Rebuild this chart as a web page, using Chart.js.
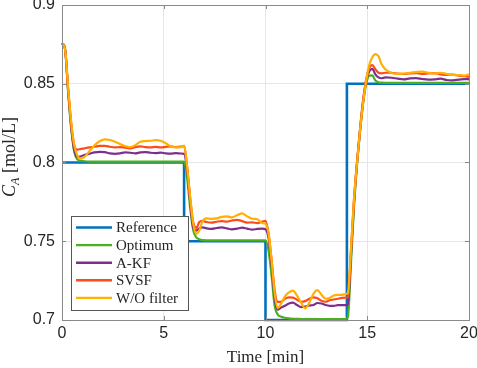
<!DOCTYPE html>
<html>
<head>
<meta charset="utf-8">
<script src="https://cdn.jsdelivr.net/npm/chart.js@4.4.0/dist/chart.umd.min.js"></script>
<style>
  html, body { margin: 0; padding: 0; background: #fff; }
  #wrap { width: 477px; height: 368px; }
</style>
</head>
<body>
<div id="wrap"><canvas id="ca" width="477" height="368"></canvas></div>
<script>
// dati
const labels = ["Reference", "Optimum", "A-KF", "SVSF", "W/O filter"];
const colors = ["#0072BD", "#4DAF1E", "#7E2F8E", "#FF4B1A", "#FFB000"];

const refTime = [0, 6, 6, 10, 10, 14, 14, 20];
const refValues = [0.8, 0.8, 0.75, 0.75, 0.7, 0.7, 0.85, 0.85];

const timeMin = [
  0, 0.15, 0.3, 0.45, 0.6, 0.75, 0.9, 1.1, 1.35, 1.6, 1.85, 2.1, 2.35, 2.6, 2.85, 3.1, 3.35, 3.6, 3.85, 4.1, 4.35, 4.6, 4.85, 5.1, 5.35, 5.6, 5.85, 6.0,
  6.15, 6.3, 6.45, 6.6, 6.75, 6.9, 7.1, 7.35, 7.6, 7.85, 8.1, 8.35, 8.6, 8.85, 9.1, 9.35, 9.6, 9.85, 10.0,
  10.15, 10.3, 10.45, 10.6, 10.75, 10.95, 11.15, 11.35, 11.55, 11.75, 11.95, 12.15, 12.35, 12.55, 12.75, 12.95, 13.15, 13.35, 13.55, 13.75, 13.95, 14.05,
  14.2, 14.35, 14.5, 14.65, 14.8, 14.95, 15.1, 15.25, 15.4, 15.55, 15.7, 15.9, 16.2, 16.5, 16.8, 17.1, 17.4, 17.7, 18.0, 18.3, 18.6, 18.9, 19.2, 19.5, 19.8, 20.0
];

const optimum = [
  0.8757, 0.872, 0.845, 0.822, 0.807, 0.802, 0.8012, 0.8008, 0.8006, 0.8006, 0.8006, 0.8006, 0.8006, 0.8006, 0.8006, 0.8006, 0.8006, 0.8006, 0.8006, 0.8006, 0.8006, 0.8006, 0.8006, 0.8006, 0.8006, 0.8006, 0.8006, 0.8006,
  0.790, 0.771, 0.757, 0.7525, 0.7512, 0.7507, 0.7506, 0.7506, 0.7506, 0.7506, 0.7506, 0.7506, 0.7506, 0.7506, 0.7506, 0.7506, 0.7506, 0.7506, 0.7506,
  0.744, 0.728, 0.709, 0.7035, 0.7022, 0.7014, 0.701, 0.7008, 0.7007, 0.7006, 0.7006, 0.7006, 0.7006, 0.7006, 0.7006, 0.7006, 0.7006, 0.7006, 0.7006, 0.7006, 0.7006, 0.702,
  0.736, 0.772, 0.799, 0.820, 0.838, 0.850, 0.8552, 0.8553, 0.852, 0.8509, 0.8507, 0.8506, 0.8506, 0.8506, 0.8506, 0.8506, 0.8506, 0.8506, 0.8506, 0.8506, 0.8506, 0.8506, 0.8506, 0.8506, 0.8506, 0.8506
];

const akf = [
  0.8757, 0.872, 0.846, 0.823, 0.808, 0.8035, 0.8038, 0.8048, 0.8056, 0.8064, 0.8068, 0.8066, 0.8058, 0.8055, 0.8058, 0.8064, 0.8062, 0.8058, 0.8064, 0.8066, 0.8062, 0.806, 0.8063, 0.8058, 0.8056, 0.806, 0.8057, 0.8055,
  0.795, 0.775, 0.7585, 0.7568, 0.7582, 0.7588, 0.7582, 0.7578, 0.7584, 0.7588, 0.7582, 0.7576, 0.758, 0.7586, 0.758, 0.7574, 0.7578, 0.758, 0.7576,
  0.752, 0.735, 0.714, 0.7065, 0.7078, 0.709, 0.7105, 0.711, 0.7095, 0.7082, 0.7086, 0.7092, 0.7095, 0.7108, 0.7105, 0.7095, 0.709, 0.709, 0.7094, 0.7095, 0.7094, 0.7095,
  0.741, 0.775, 0.800, 0.821, 0.839, 0.852, 0.858, 0.8595, 0.856, 0.854, 0.8535, 0.854, 0.8538, 0.8532, 0.8528, 0.8534, 0.8536, 0.853, 0.8526, 0.8528, 0.8532, 0.8524, 0.8522, 0.8526, 0.853, 0.8528
];

const svsf = [
  0.8757, 0.872, 0.847, 0.825, 0.811, 0.8082, 0.8085, 0.809, 0.8096, 0.810, 0.8105, 0.8105, 0.810, 0.8096, 0.8098, 0.8094, 0.809, 0.8098, 0.8102, 0.8098, 0.8096, 0.8099, 0.8096, 0.8099, 0.8102, 0.8098, 0.8101, 0.8105,
  0.797, 0.777, 0.762, 0.7585, 0.7622, 0.763, 0.7622, 0.7618, 0.7624, 0.7628, 0.7625, 0.7632, 0.7636, 0.7628, 0.7618, 0.762, 0.7615, 0.7625, 0.763,
  0.755, 0.738, 0.719, 0.7115, 0.7115, 0.7135, 0.7144, 0.7142, 0.7128, 0.7116, 0.712, 0.7135, 0.7144, 0.7138, 0.7122, 0.7116, 0.7125, 0.713, 0.7135, 0.714, 0.7142, 0.7145,
  0.744, 0.777, 0.801, 0.822, 0.840, 0.853, 0.860, 0.8618, 0.8592, 0.857, 0.8566, 0.857, 0.857, 0.8564, 0.8562, 0.8566, 0.8568, 0.8562, 0.8565, 0.8568, 0.856, 0.8556, 0.8558, 0.8552, 0.8548, 0.8543
];

const woFilter = [
  0.8757, 0.872, 0.848, 0.826, 0.811, 0.8045, 0.8027, 0.8035, 0.8072, 0.811, 0.8135, 0.8147, 0.8143, 0.8132, 0.8118, 0.8105, 0.8097, 0.811, 0.8132, 0.8136, 0.8138, 0.8142, 0.8138, 0.8122, 0.8102, 0.8096, 0.8098, 0.8105,
  0.797, 0.778, 0.761, 0.7548, 0.757, 0.7625, 0.7645, 0.7642, 0.7645, 0.7655, 0.7658, 0.7652, 0.7665, 0.7677, 0.7658, 0.7643, 0.764, 0.7615, 0.761,
  0.755, 0.738, 0.717, 0.7076, 0.710, 0.7148, 0.7175, 0.7186, 0.7155, 0.711, 0.7074, 0.711, 0.7165, 0.719, 0.716, 0.7135, 0.714, 0.7155, 0.716, 0.716, 0.7165, 0.7172,
  0.745, 0.777, 0.800, 0.821, 0.838, 0.852, 0.862, 0.8668, 0.8688, 0.8675, 0.8625, 0.859, 0.8568, 0.8562, 0.8565, 0.857, 0.8574, 0.8577, 0.857, 0.8566, 0.857, 0.8562, 0.8556, 0.8555, 0.8552, 0.856
];

const xTicks = [0, 5, 10, 15, 20];
const yTicks = [0.7, 0.75, 0.8, 0.85, 0.9];

const AXIS_COL = "#262626";
const FRAME_COL = "#8a8a8a";

function toPoints(xs, ys) {
  return xs.map((x, i) => ({ x: x, y: ys[i] }));
}

const seriesValues = [null, optimum, akf, svsf, woFilter];
const datasets = labels.map((lab, i) => ({
  label: lab,
  data: i === 0 ? toPoints(refTime, refValues) : toPoints(timeMin, seriesValues[i]),
  borderColor: colors[i],
  borderWidth: i === 0 ? 2.6 : 2.2,
  pointRadius: 0,
  fill: false,
  tension: i === 0 ? 0 : 0.4,
  cubicInterpolationMode: i === 0 ? "default" : "monotone",
  clip: 4,
  order: labels.length - i,
}));

// cornice con tacche interne, titolo asse y e legenda dentro il grafico
const framePlugin = {
  id: "frame",
  afterDraw(chart) {
    const c = chart.ctx;
    const a = chart.chartArea;
    const xs = chart.scales.x, ys = chart.scales.y;
    c.save();
    c.strokeStyle = FRAME_COL;
    c.lineWidth = 1;
    c.strokeRect(Math.round(a.left) + 0.5, Math.round(a.top) + 0.5, Math.round(a.right - a.left), Math.round(a.bottom - a.top));
    c.beginPath();
    xTicks.forEach(t => {
      const px = Math.round(xs.getPixelForValue(t)) + 0.5;
      c.moveTo(px, a.bottom); c.lineTo(px, a.bottom - 4);
      c.moveTo(px, a.top); c.lineTo(px, a.top + 4);
    });
    yTicks.forEach(t => {
      const py = Math.round(ys.getPixelForValue(t)) + 0.5;
      c.moveTo(a.left, py); c.lineTo(a.left + 4, py);
      c.moveTo(a.right, py); c.lineTo(a.right - 4, py);
    });
    c.stroke();

    // titolo asse y: C_A [mol/L]
    c.translate(15, 157);
    c.rotate(-Math.PI / 2);
    c.fillStyle = AXIS_COL;
    c.textBaseline = "alphabetic";
    const fMain = "italic 18px 'Liberation Serif'";
    const fSub = "italic 12px 'Liberation Serif'";
    const fRest = "18px 'Liberation Serif'";
    c.font = fMain; const wC = c.measureText("C").width;
    c.font = fSub; const wA = c.measureText("A").width;
    c.font = fRest; const wR = c.measureText(" [mol/L]").width;
    let x0 = -(wC + wA + wR) / 2;
    c.font = fMain; c.fillText("C", x0, 0); x0 += wC;
    c.font = fSub; c.fillText("A", x0, 4); x0 += wA;
    c.font = fRest; c.fillText(" [mol/L]", x0, 0);
    c.restore();

    // legenda
    c.save();
    const bx = 71.5, by = 216.5, bw = 117, bh = 94;
    c.fillStyle = "#fff";
    c.fillRect(bx, by, bw, bh);
    c.strokeStyle = "#555";
    c.lineWidth = 1;
    c.strokeRect(bx, by, bw, bh);
    c.font = "15px 'Liberation Serif'";
    c.textBaseline = "middle";
    labels.forEach((lab, i) => {
      const yy = 227.5 + i * 17.6;
      c.strokeStyle = colors[i];
      c.lineWidth = 2.4;
      c.beginPath();
      c.moveTo(76, yy); c.lineTo(112, yy);
      c.stroke();
      c.fillStyle = AXIS_COL;
      c.fillText(lab, 116, yy + 1);
    });
    c.restore();
  }
};

new Chart(document.getElementById("ca"), {
  type: "line",
  data: { datasets: datasets },
  options: {
    responsive: false,
    devicePixelRatio: 1,
    animation: false,
    layout: { padding: { left: 0, right: 8, top: 5, bottom: 0 } },
    plugins: {
      legend: { display: false },
      tooltip: { enabled: false },
    },
    scales: {
      x: {
        type: "linear",
        min: 0, max: 20,
        afterFit: s => { s.height = 48; s.paddingLeft = 0; s.paddingRight = 0; },
        afterBuildTicks: s => { s.ticks = xTicks.map(v => ({ value: v })); },
        ticks: { font: { family: "'Liberation Sans'", size: 16 }, color: AXIS_COL, padding: 4, maxRotation: 0 },
        grid: { color: "#e6e6e6", drawTicks: false },
        border: { display: false },
        title: { display: true, text: "Time [min]", font: { family: "'Liberation Serif'", size: 17 }, color: AXIS_COL, padding: { top: 0, bottom: 0 } },
      },
      y: {
        min: 0.7, max: 0.9,
        afterFit: s => { s.width = 62; s.paddingTop = 0; s.paddingBottom = 0; },
        afterBuildTicks: s => { s.ticks = yTicks.map(v => ({ value: v })); },
        ticks: { font: { family: "'Liberation Sans'", size: 16 }, color: AXIS_COL, padding: 7, callback: v => String(v) },
        grid: { color: "#e6e6e6", drawTicks: false },
        border: { display: false },
      },
    },
  },
  plugins: [framePlugin],
});
</script>
</body>
</html>
